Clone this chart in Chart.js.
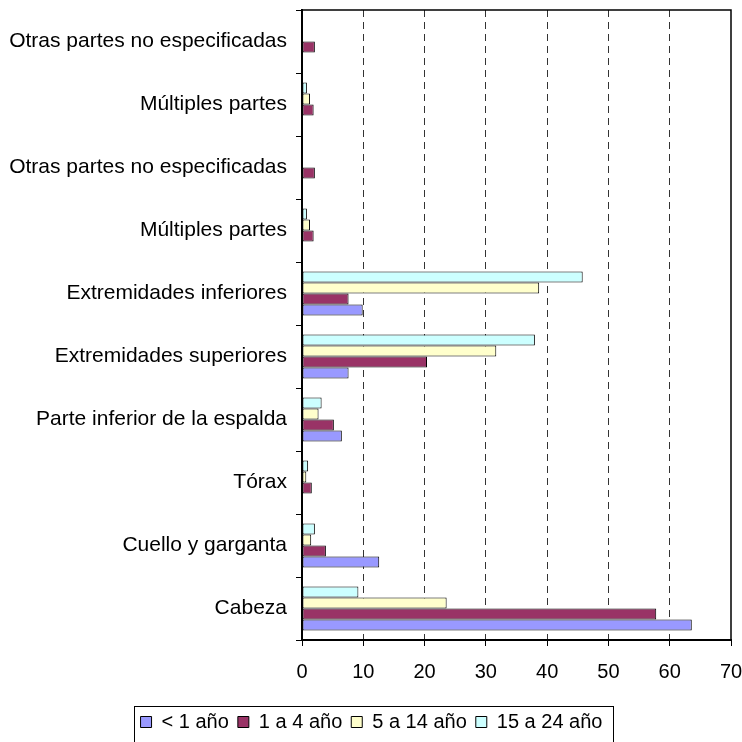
<!DOCTYPE html>
<html>
<head>
<meta charset="utf-8">
<script src="https://cdn.jsdelivr.net/npm/chart.js@4/dist/chart.umd.min.js"></script>
<style>
  html, body { margin: 0; padding: 0; background: #fff; }
  #wrap { width: 742px; height: 742px; position: relative; }
</style>
</head>
<body>
<div id="wrap"><canvas id="c" width="742" height="742"></canvas></div>
<script>
// Categories, bottom to top as drawn
const categories = [
  'Cabeza',
  'Cuello y garganta',
  'Tórax',
  'Parte inferior de la espalda',
  'Extremidades superiores',
  'Extremidades inferiores',
  'Múltiples partes',
  'Otras partes no especificadas',
  'Múltiples partes',
  'Otras partes no especificadas'
];
const seriesNames = ['< 1 año', '1 a 4 año', '5 a 14 año', '15 a 24 año'];
const menos1   = [63.6, 12.6, null, 6.5, 7.6, 9.9, null, null, null, null];
const de1a4    = [57.8, 3.9, 1.6, 5.2, 20.4, 7.6, 1.9, 2.1, 1.9, 2.1];
const de5a14   = [23.6, 1.5, 0.7, 2.7, 31.7, 38.7, 1.3, null, 1.3, null];
const de15a24  = [9.2, 2.1, 1.0, 3.2, 38.0, 45.8, 0.8, null, 0.8, null];
const xTicks   = [0, 10, 20, 30, 40, 50, 60, 70];
const colors   = ['#9999FF', '#993366', '#FFFFCC', '#CCFFFF'];

const seriesValues = [menos1, de1a4, de5a14, de15a24];
// datasets listed top-of-group first so that "< 1 año" sits at the bottom of each group
const datasets = [3, 2, 1, 0].map(i => ({
  label: seriesNames[i],
  data: seriesValues[i],
  backgroundColor: colors[i],
  borderColor: '#000',
  borderWidth: 1,
  borderSkipped: false,
  categoryPercentage: 0.7,
  barPercentage: 1.0
}));

const FONT = "'Liberation Sans', Arial, sans-serif";

const framePlugin = {
  id: 'frame',
  afterLayout(chart) {
    if (chart.legend) { chart.legend.left += 6; chart.legend.right += 6; }
  },
  afterDraw(chart) {
    const ctx = chart.ctx;
    const a = chart.chartArea;
    ctx.save();
    ctx.strokeStyle = '#000';
    ctx.lineWidth = 1.5;
    ctx.beginPath();
    ctx.moveTo(a.left, a.top);
    ctx.lineTo(a.right, a.top);
    ctx.lineTo(a.right, a.bottom);
    ctx.stroke();
    // legend frame
    const lg = chart.legend;
    if (lg && lg.legendHitBoxes && lg.legendHitBoxes.length) {
      const hb = lg.legendHitBoxes;
      let minX = Infinity, maxX = -Infinity, minY = Infinity;
      hb.forEach(b => {
        minX = Math.min(minX, b.left); maxX = Math.max(maxX, b.left + b.width);
        minY = Math.min(minY, b.top);
      });
      ctx.lineWidth = 1;
      ctx.strokeStyle = '#000';
      ctx.strokeRect(Math.round(minX - 7) + 0.5, Math.round(minY - 6) + 0.5,
                     Math.round(maxX - minX + 17), 60);
    }
    ctx.restore();
  }
};

new Chart(document.getElementById('c'), {
  type: 'bar',
  data: { labels: categories, datasets },
  options: {
    indexAxis: 'y',
    responsive: false,
    animation: false,
    devicePixelRatio: 1,
    layout: { padding: { left: 0, right: 11, top: 10, bottom: 0 } },
    plugins: {
      legend: {
        position: 'bottom',
        reverse: true,
        labels: {
          boxWidth: 11,
          boxHeight: 11,
          padding: 9,
          color: '#000',
          font: { family: FONT, size: 20 }
        }
      },
      tooltip: { enabled: false }
    },
    scales: {
      x: {
        min: 0,
        max: 70,
        afterBuildTicks(scale) { scale.ticks = xTicks.map(v => ({ value: v })); },
        afterFit(scale) {
          scale.height = 63;
          scale.paddingLeft = 0; scale.paddingRight = 0;
          scale.paddingTop = 0; scale.paddingBottom = 0;
        },
        ticks: {
          color: '#000',
          padding: 14,
          font: { family: FONT, size: 20 }
        },
        grid: {
          color: ctx => (ctx.tick && (ctx.tick.value === 0 || ctx.tick.value === 70)) ? 'rgba(0,0,0,0)' : '#333',
          lineWidth: 1,
          tickColor: '#000',
          tickLength: 6,
          tickWidth: 1
        },
        border: { display: true, color: '#000', width: 2, dash: [7, 5] }
      },
      y: {
        reverse: true,
        afterFit(scale) {
          scale.width = 302;
          scale.paddingLeft = 0; scale.paddingRight = 0;
          scale.paddingTop = 0; scale.paddingBottom = 0;
        },
        ticks: {
          color: '#000',
          padding: 9,
          autoSkip: false,
          font: { family: FONT, size: 21 }
        },
        grid: {
          offset: true,
          drawOnChartArea: false,
          tickColor: '#000',
          tickLength: 6,
          tickWidth: 1
        },
        border: { display: true, color: '#000', width: 2 }
      }
    }
  },
  plugins: [framePlugin]
});
</script>
</body>
</html>
